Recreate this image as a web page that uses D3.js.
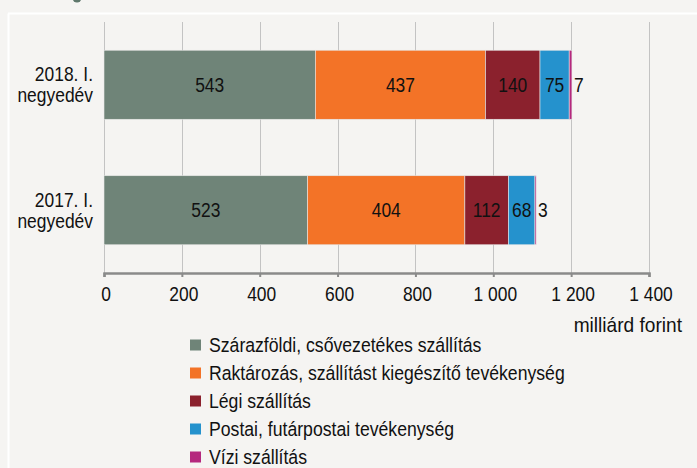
<!DOCTYPE html>
<html><head><meta charset="utf-8">
<script src="https://cdn.jsdelivr.net/npm/d3@7"></script>
<style>
body{margin:0;background:#f5f4f2;}
svg{display:block;}
text{font-family:"Liberation Sans",Arial,sans-serif;fill:#111;}
</style></head><body>
<svg id="c" width="697" height="468"></svg>
<script>
const categories = ["2018. I. negyedév", "2017. I. negyedév"];
const categoryLines = [["2018. I.", "negyedév"], ["2017. I.", "negyedév"]];
const seriesNames = ["Szárazföldi, csővezetékes szállítás", "Raktározás, szállítást kiegészítő tevékenység", "Légi szállítás", "Postai, futárpostai tevékenység", "Vízi szállítás"];
const seriesColors = ["#6f8478", "#f37327", "#8b212d", "#2592cd", "#b5287e"];
const values2018 = [543, 437, 140, 75, 7];
const values2017 = [523, 404, 112, 68, 3];
const xTicks = [0, 200, 400, 600, 800, 1000, 1200, 1400];
const unitLabel = "milliárd forint";

const data = [values2018, values2017];
const svg = d3.select("#c");
const FS = 20.5, SQ = 0.85;

function squeeze(sel, s){
  sel.each(function(){
    const w = this.getComputedTextLength();
    if (w > 0) d3.select(this).attr("textLength", w*s).attr("lengthAdjust","spacingAndGlyphs");
  });
}

// frame
svg.append("line").attr("x1",8.5).attr("x2",8.5).attr("y1",13.5).attr("y2",468).attr("stroke","#fff").attr("stroke-width",2);
svg.append("line").attr("x1",8).attr("x2",697).attr("y1",13.5).attr("y2",13.5).attr("stroke","#fff").attr("stroke-width",2);
svg.append("circle").attr("cx",77).attr("cy",-2).attr("r",4.5).attr("fill","#5f786c");

const x = d3.scaleLinear().domain([0,1400]).range([104,649]);
const y = d3.scaleBand().domain(categories).range([22,273]).paddingInner(0.45).paddingOuter(0.225);

// grid
svg.append("g").selectAll("line").data(xTicks).join("line")
  .attr("x1",d=>Math.round(x(d))+0.5).attr("x2",d=>Math.round(x(d))+0.5)
  .attr("y1",22).attr("y2",273).attr("stroke","#c3c3c3").attr("stroke-width",1);

const fmt = d => d3.format(",")(d).replace(/,/g,"\u00a0");

// bars
categories.forEach((c,i)=>{
  const vals = data[i];
  let acc = 0;
  const segs = vals.map((v,j)=>{const s={j,v,x0:acc,x1:acc+v}; acc+=v; return s;});
  const g = svg.append("g");
  g.selectAll("rect").data(segs).join("rect")
    .attr("x",d=>x(d.x0)).attr("width",d=>x(d.x1)-x(d.x0))
    .attr("y",y(c)).attr("height",y.bandwidth())
    .attr("fill",d=>seriesColors[d.j])
    .attr("stroke","#e6e6e6").attr("stroke-width",0.6);
  const lbl = g.selectAll("text").data(segs).join("text")
    .attr("x",d=> d.j===4 ? x(d.x1)+2 : x((d.x0+d.x1)/2))
    .attr("y",y(c)+y.bandwidth()/2)
    .attr("dy","0.35em")
    .attr("text-anchor",d=> d.j===4 ? "start" : "middle")
    .attr("font-size",FS)
    .text(d=>fmt(d.v));
  squeeze(lbl, SQ);
  // category label (two lines)
  categoryLines[i].forEach((ln,k)=>{
    const t = svg.append("text").attr("text-anchor","end").attr("font-size",FS)
      .attr("x",93).attr("y",y(c)+y.bandwidth()/2 + (k===0?-10.5:10.5)).attr("dy","0.35em").text(ln);
    squeeze(t, SQ);
  });
});

// x axis
const ax = svg.append("g").attr("transform","translate(0,273)")
  .call(d3.axisBottom(x).tickValues(xTicks).tickFormat(fmt).tickSize(4).tickPadding(9));
ax.select(".domain").attr("stroke","#8a8a8a").attr("stroke-width",2.5);
ax.selectAll(".tick line").attr("stroke","#8a8a8a").attr("stroke-width",2);
const tt = ax.selectAll(".tick text").attr("font-size",FS).attr("fill","#111").attr("dx",1.5)
  .attr("font-family","'Liberation Sans',Arial,sans-serif");
squeeze(tt, SQ);

const ul = svg.append("text").attr("x",682).attr("y",325).attr("dy","0.35em").attr("text-anchor","end").attr("font-size",21).text(unitLabel);
squeeze(ul, 0.91);

// legend
const lg = svg.append("g");
seriesNames.forEach((n,i)=>{
  const cy = 345 + i*28;
  lg.append("rect").attr("x",190).attr("y",cy-5.5).attr("width",11).attr("height",11).attr("fill",seriesColors[i]);
  const lt = lg.append("text").attr("x",209).attr("y",cy).attr("dy","0.35em").attr("font-size",FS).text(n);
  squeeze(lt, 0.86);
});
</script></body></html>
